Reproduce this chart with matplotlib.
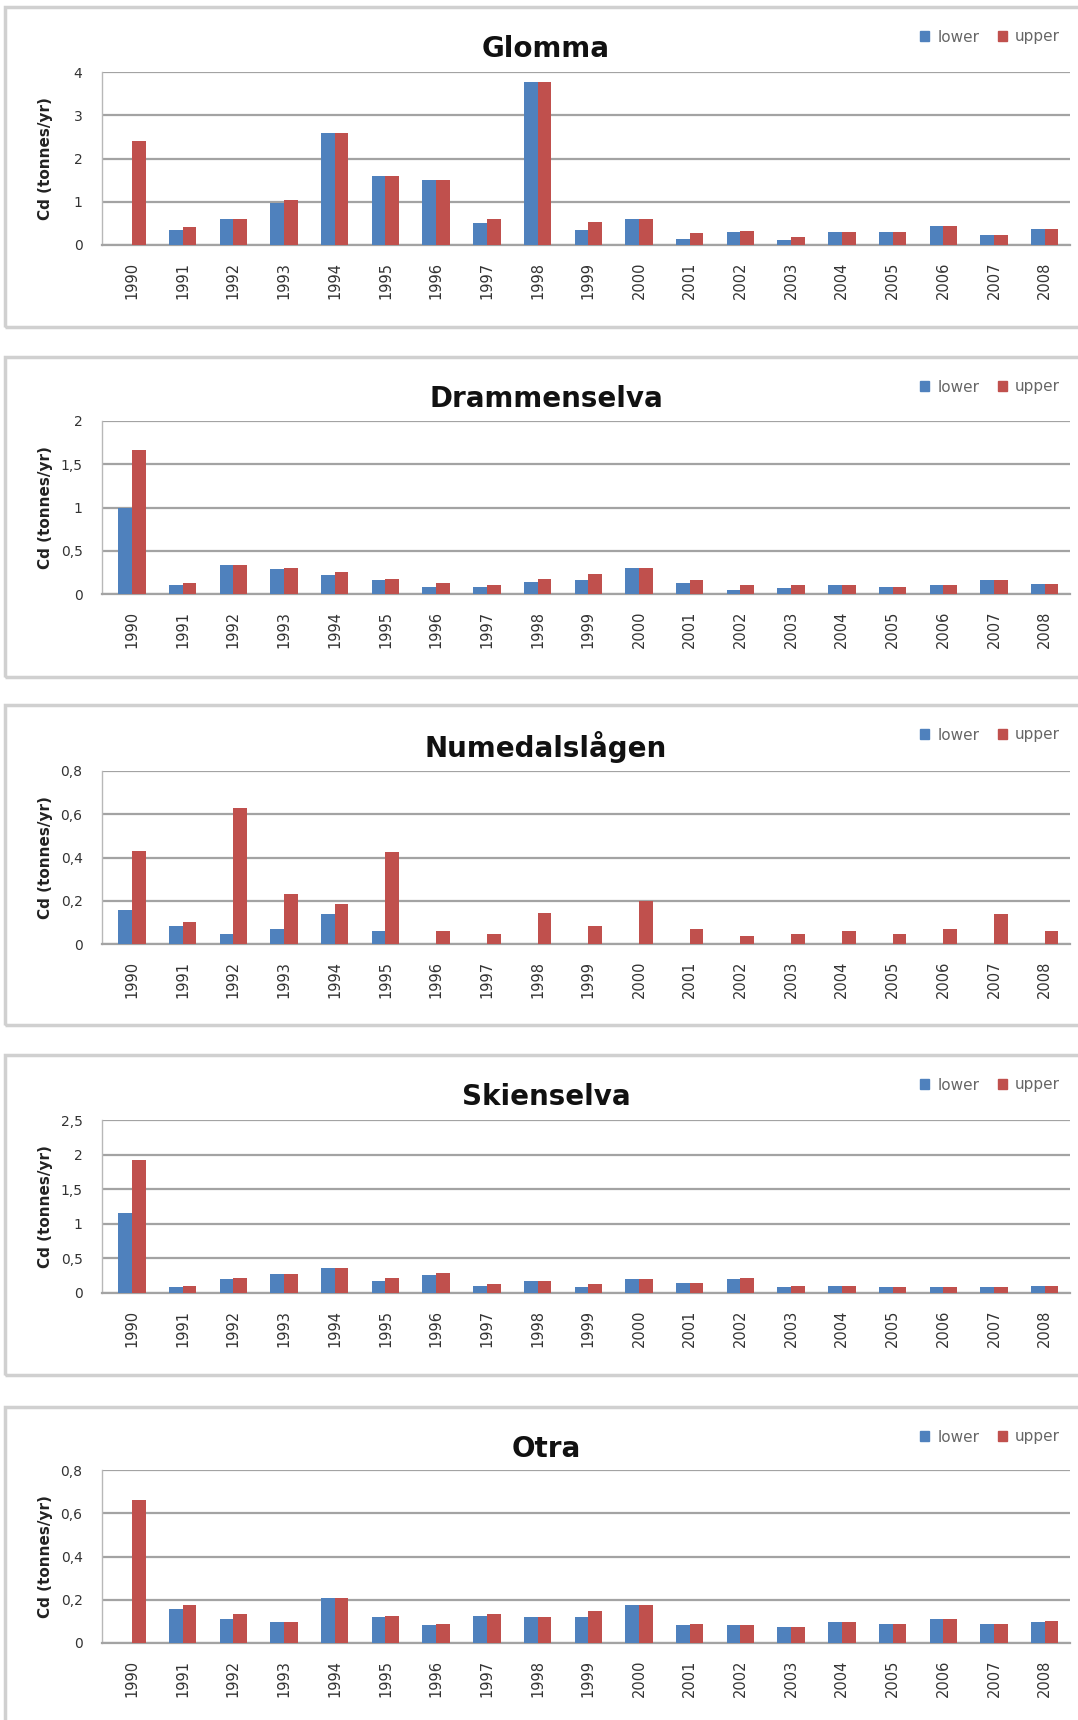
import numpy as np
import matplotlib
matplotlib.use("Agg")
import matplotlib.pyplot as plt
from matplotlib.patches import Rectangle, Patch
from matplotlib.ticker import FuncFormatter

plt.rcParams['font.family'] = ['DejaVu Sans']

nan = float('nan')
years = [str(y) for y in range(1990, 2009)]

rivers = ["Glomma", "Drammenselva", "Numedalslågen", "Skienselva", "Otra"]

glomma_lower = [nan, 0.35, 0.6, 0.98, 2.6, 1.6, 1.5, 0.5, 3.76, 0.35, 0.6, 0.15, 0.29, 0.11, 0.29, 0.29, 0.43, 0.23, 0.37]
glomma_upper = [2.4, 0.42, 0.6, 1.05, 2.6, 1.6, 1.5, 0.61, 3.76, 0.53, 0.6, 0.28, 0.32, 0.18, 0.29, 0.29, 0.43, 0.23, 0.37]

dramm_lower = [1.0, 0.1, 0.33, 0.29, 0.22, 0.16, 0.08, 0.08, 0.14, 0.16, 0.3, 0.13, 0.05, 0.07, 0.1, 0.08, 0.1, 0.16, 0.11]
dramm_upper = [1.66, 0.13, 0.33, 0.3, 0.25, 0.17, 0.13, 0.1, 0.17, 0.23, 0.3, 0.16, 0.1, 0.1, 0.1, 0.08, 0.1, 0.16, 0.11]

numed_lower = [0.157, 0.084, 0.047, 0.07, 0.137, 0.062, nan, nan, nan, nan, nan, nan, nan, nan, nan, nan, nan, nan, nan]
numed_upper = [0.43, 0.1, 0.63, 0.233, 0.183, 0.424, 0.059, 0.048, 0.144, 0.082, 0.199, 0.07, 0.036, 0.048, 0.059, 0.048, 0.07, 0.137, 0.059]

skien_lower = [1.15, 0.085, 0.2, 0.28, 0.36, 0.17, 0.26, 0.1, 0.17, 0.08, 0.2, 0.14, 0.2, 0.085, 0.1, 0.085, 0.085, 0.085, 0.1]
skien_upper = [1.92, 0.105, 0.22, 0.28, 0.36, 0.21, 0.29, 0.125, 0.17, 0.125, 0.2, 0.14, 0.22, 0.1, 0.1, 0.085, 0.085, 0.085, 0.1]

otra_lower = [nan, 0.155, 0.11, 0.098, 0.208, 0.122, 0.083, 0.125, 0.12, 0.12, 0.175, 0.083, 0.083, 0.074, 0.098, 0.088, 0.11, 0.087, 0.098]
otra_upper = [0.66, 0.174, 0.135, 0.098, 0.208, 0.125, 0.088, 0.135, 0.12, 0.148, 0.175, 0.088, 0.083, 0.074, 0.098, 0.088, 0.11, 0.087, 0.102]

lowers = [glomma_lower, dramm_lower, numed_lower, skien_lower, otra_lower]
uppers = [glomma_upper, dramm_upper, numed_upper, skien_upper, otra_upper]
yticks = [[0, 1, 2, 3, 4],
          [0, 0.5, 1, 1.5, 2],
          [0, 0.2, 0.4, 0.6, 0.8],
          [0, 0.5, 1, 1.5, 2, 2.5],
          [0, 0.2, 0.4, 0.6, 0.8]]

W, H = 1078, 1720
fig = plt.figure(figsize=(W / 100, H / 100), dpi=100)

blue = '#4f81bd'
red = '#c0504d'
grid_c = '#a3a3a3'

panel_tops = [7, 357, 705, 1055, 1407]
ax_tops = [72, 421, 771, 1120, 1470]
ax_h = 173
ax_left, ax_right = 102, 1070

def fmt(v, pos):
    s = ('%g' % v)
    return s.replace('.', ',')

x = np.arange(len(years))
bw = 0.27

for i, name in enumerate(rivers):
    pt = panel_tops[i]
    fig.patches.append(Rectangle((5 / W, 1 - (pt + 320) / H), 1.2, 320 / H,
                                 transform=fig.transFigure, fill=False,
                                 edgecolor='#d0d0d0', linewidth=2.5, zorder=0))
    top = ax_tops[i]
    ax = fig.add_axes([ax_left / W, 1 - (top + ax_h) / H, (ax_right - ax_left) / W, ax_h / H])
    ax.bar(x - bw / 2, lowers[i], width=bw, color=blue, zorder=3, label='lower')
    ax.bar(x + bw / 2, uppers[i], width=bw, color=red, zorder=3, label='upper')
    ax.set_xlim(-0.59, 18.5)
    yt = yticks[i]
    ax.set_ylim(0, yt[-1])
    ax.set_yticks(yt)
    ax.yaxis.set_major_formatter(FuncFormatter(fmt))
    ax.yaxis.grid(True, color=grid_c, linewidth=1.6, zorder=0)
    ax.set_axisbelow(True)
    ax.set_xticks(x)
    ax.set_xticklabels(years, rotation=90, fontsize=10.5, color='#333333')
    ax.tick_params(axis='x', length=0, pad=12)
    ax.tick_params(axis='y', length=0, pad=14, labelsize=10, labelcolor='#333333')
    for s in ['top', 'right']:
        ax.spines[s].set_visible(False)
    ax.spines['bottom'].set_color(grid_c)
    ax.spines['bottom'].set_linewidth(1.6)
    ax.spines['left'].set_color('#b8b8b8')
    ax.spines['left'].set_linewidth(1.0)
    ax.set_ylabel('Cd (tonnes/yr)', fontsize=11, fontweight='bold', color='#222222')
    ax.yaxis.set_label_coords(-(ax_left - 53) / (ax_right - ax_left), 0.5)
    fig.text(546 / W, 1 - (pt + 42) / H, name, ha='center', va='center',
             fontsize=20, fontweight='bold', color='#111111')
    handles = [Patch(color=blue, label='lower'), Patch(color=red, label='upper')]
    fig.legend(handles=handles, loc='center', bbox_to_anchor=(990 / W, 1 - (pt + 30) / H),
               ncol=2, frameon=False, fontsize=11, handlelength=0.6, handleheight=0.6,
               handletextpad=0.55, columnspacing=1.2, labelcolor='#666666',
               borderpad=0, borderaxespad=0)

fig.savefig('out.png', dpi=100, facecolor='white')
